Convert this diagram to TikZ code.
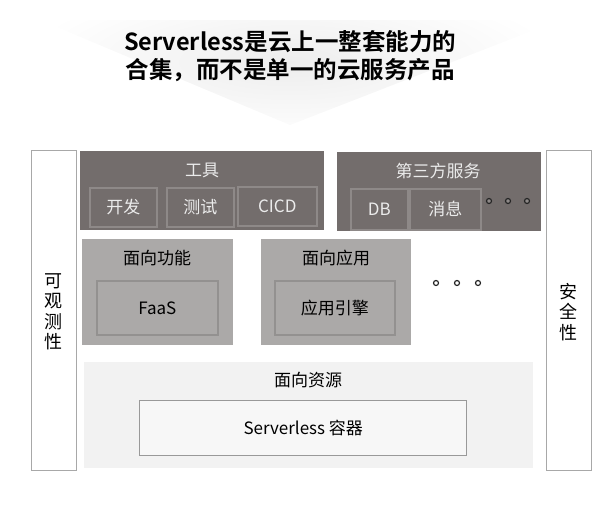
\documentclass[tikz,border=0pt]{standalone}
\usepackage{fontspec}
\setmainfont{Noto Sans CJK SC}[BoldFont={Noto Sans CJK SC Bold}]
\usepackage{xcolor}
\usetikzlibrary{positioning}

\definecolor{tooldark}{HTML}{736D6C}
\definecolor{toolline}{HTML}{8E8988}
\definecolor{midgray}{HTML}{ABA9A8}
\definecolor{midline}{HTML}{939190}
\definecolor{basegray}{HTML}{F2F2F2}
\definecolor{sideline}{HTML}{A8A8A8}

\newcommand{\boxfont}{\fontsize{17}{20}\selectfont}

\begin{document}
\begin{tikzpicture}[x=1pt,y=-1pt,
  box/.style={rectangle, inner sep=0pt, anchor=north west},
  dark/.style={box, fill=tooldark},
  darksub/.style={box, draw=toolline, line width=1.6pt, text=white!92!black, font=\boxfont},
  mid/.style={box, fill=midgray},
  midsub/.style={box, draw=midline, line width=1.6pt, font=\boxfont},
  side/.style={box, draw=sideline, line width=1.6pt, fill=white},
  lbl/.style={font=\boxfont},
  dot/.style={circle, draw=#1, line width=1.2pt, inner sep=0pt, minimum size=5pt}]
  \useasboundingbox (0,0) rectangle (609,504);

  % title with light fan behind it
  \begin{scope}
    \clip (40,20) -- (560,20) -- (290,125) -- cycle;
    \shade[inner color=black!7, outer color=white] (290,62) ellipse (270pt and 80pt);
  \end{scope}
  \node[font=\fontsize{23.5}{28}\selectfont\bfseries, align=center] (title) at (290,56)
    {Serverless是云上一整套能力的\\合集，而不是单一的云服务产品};

  % side columns
  \node[side, minimum width=45pt, minimum height=320pt] (obs) at (30.5,149.5) {};
  \node[side, minimum width=45pt, minimum height=320pt] (sec) at (545.5,149.5) {};
  \node[lbl, align=center, font=\fontsize{18}{20.5}\selectfont] (obst) at (53,312) {可\\观\\测\\性};
  \node[lbl, align=center, font=\fontsize{18}{20.5}\selectfont] (sect) at (568,312) {安\\全\\性};

  % tools
  \node[dark, minimum width=244pt, minimum height=79pt] (tools) at (80,151) {};
  \node[lbl, text=white!92!black] (toolst) at (202,170) {工具};
  \node[darksub, minimum width=67pt, minimum height=39pt] (dev) at (89,187) {开发};
  \node[darksub, minimum width=67pt, minimum height=39pt] (test) at (166,187) {测试};
  \node[darksub, minimum width=79pt, minimum height=39pt] (cicd) at (237,186) {CICD};

  % third party services
  \node[dark, minimum width=204pt, minimum height=79pt] (third) at (337,152) {};
  \node[lbl, text=white!92!black] (thirdt) at (438,171) {第三方服务};
  \node[darksub, minimum width=57pt, minimum height=41pt] (db) at (350,188) {DB};
  \node[darksub, minimum width=71pt, minimum height=41pt] (msg) at (409,188) {消息};
  \node[dot=black!85, fill=toolline] (d1) at (489,201) {};
  \node[dot=black!85, fill=toolline] (d2) at (508,201) {};
  \node[dot=black!85, fill=toolline] (d3) at (527,201) {};

  % function oriented
  \node[mid, minimum width=151pt, minimum height=106pt] (func) at (82,239) {};
  \node[lbl] (funct) at (157,258) {面向功能};
  \node[midsub, minimum width=121pt, minimum height=54pt] (faas) at (96,280) {FaaS};

  % application oriented
  \node[mid, minimum width=150pt, minimum height=106pt] (app) at (261,239) {};
  \node[lbl] (appt) at (336,258) {面向应用};
  \node[midsub, minimum width=120pt, minimum height=54pt] (engine) at (274,280) {应用引擎};
  \node[dot=black!85, fill=white] (e1) at (436,283) {};
  \node[dot=black!85, fill=white] (e2) at (457,283) {};
  \node[dot=black!85, fill=white] (e3) at (478,283) {};

  % resource oriented
  \node[box, fill=basegray, minimum width=449pt, minimum height=106pt] (res) at (84,362) {};
  \node[lbl] (rest) at (308,380) {面向资源};
  \node[box, draw=black!40, line width=1.4pt, fill=basegray!60!white, minimum width=327pt, minimum height=55pt,
    font=\boxfont] (cont) at (139,400) {Serverless 容器};
\end{tikzpicture}
\end{document}
